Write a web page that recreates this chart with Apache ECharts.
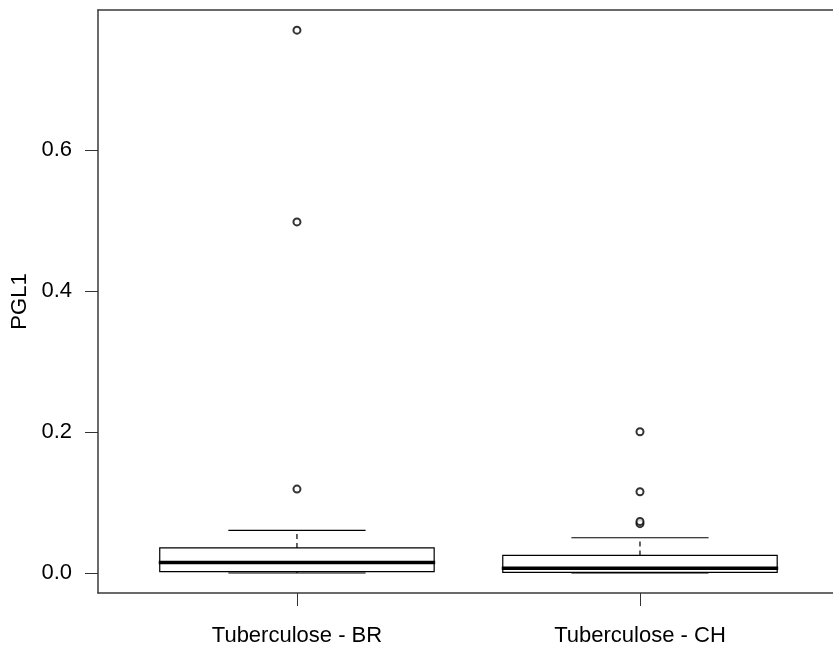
<!DOCTYPE html>
<html>
<head>
<meta charset="utf-8">
<script src="https://cdn.jsdelivr.net/npm/echarts@6/dist/echarts.min.js"></script>
<style>
    html, body { margin: 0; padding: 0; background: #fff; }
    #chart { width: 833px; height: 648px; }
</style>
</head>
<body>
<div id="chart"></div>
<script>
// 分组
const groups = ['Tuberculose - BR', 'Tuberculose - CH'];
// 箱线统计: [下须, Q1, 中位数, Q3, 上须]
const statsBR = [0.0, 0.002, 0.015, 0.0355, 0.0605];
const statsCH = [0.0, 0.001, 0.0066, 0.025, 0.050];
// 异常值
const outliersBR = [0.119, 0.498, 0.770];
const outliersCH = [0.070, 0.073, 0.1153, 0.2004];
// y轴刻度
const yTicks = [0, 0.2, 0.4, 0.6];

const FONT = '"Liberation Sans", Arial, sans-serif';
const AXIS_LINE = { color: '#3a3a3a', width: 1.5 };

const boxData = [
    [1].concat(statsBR),
    [2].concat(statsCH)
];
const outlierData = outliersBR.map(v => [1, v]).concat(outliersCH.map(v => [2, v]));

function renderBox(params, api) {
    const x = api.value(0);
    const lo = api.coord([x, api.value(1)]);
    const q1 = api.coord([x, api.value(2)]);
    const med = api.coord([x, api.value(3)]);
    const q3 = api.coord([x, api.value(4)]);
    const hi = api.coord([x, api.value(5)]);
    const boxW = api.size([0.8, 0])[0];
    const capW = boxW / 2;
    const cx = lo[0];
    const line = (x1, y1, x2, y2, style) => ({
        type: 'line',
        shape: { x1: x1, y1: y1, x2: x2, y2: y2 },
        style: Object.assign({ stroke: '#000', lineWidth: 1.2 }, style || {})
    });
    return {
        type: 'group',
        children: [
            line(cx, q3[1], cx, hi[1], { lineDash: [5, 4] }),
            line(cx, q1[1], cx, lo[1], { lineDash: [5, 4] }),
            line(cx - capW / 2, hi[1], cx + capW / 2, hi[1]),
            line(cx - capW / 2, lo[1], cx + capW / 2, lo[1]),
            {
                type: 'rect',
                shape: { x: cx - boxW / 2, y: q3[1], width: boxW, height: q1[1] - q3[1] },
                style: { fill: '#fff', stroke: '#000', lineWidth: 1.2 }
            },
            line(cx - boxW / 2 - 1, med[1], cx + boxW / 2 + 1, med[1], { lineWidth: 3.5 })
        ]
    };
}

const chart = echarts.init(document.getElementById('chart'));
chart.setOption({
    animation: false,
    backgroundColor: '#fff',
    grid: { left: 98, top: 10, width: 735, height: 583 },
    xAxis: [
        {
            type: 'value',
            min: 0.42,
            max: 2.5627,
            splitLine: { show: false },
            axisLine: { onZero: false, lineStyle: AXIS_LINE },
            axisTick: { show: true, length: 13, customValues: [1, 2], lineStyle: { color: '#333' } },
            axisLabel: {
                customValues: [1, 2],
                formatter: v => groups[Math.round(v) - 1] || '',
                margin: 32,
                fontSize: 22,
                fontFamily: FONT,
                color: '#000'
            }
        },
        {
            // 顶部边框
            type: 'value',
            position: 'top',
            min: 0.42,
            max: 2.5627,
            splitLine: { show: false },
            axisLine: { show: true, onZero: false, lineStyle: AXIS_LINE },
            axisTick: { show: false },
            axisLabel: { show: false }
        }
    ],
    yAxis: {
        type: 'value',
        min: -0.02837,
        max: 0.7986,
        name: 'PGL1',
        nameLocation: 'middle',
        nameGap: 62,
        nameRotate: 90,
        nameTextStyle: { fontSize: 22, fontFamily: FONT, color: '#000' },
        splitLine: { show: false },
        axisLine: { show: true, onZero: false, lineStyle: AXIS_LINE },
        axisTick: { show: true, length: 13, customValues: yTicks, lineStyle: { color: '#333' } },
        axisLabel: {
            customValues: yTicks,
            formatter: v => v.toFixed(1),
            margin: 26,
            fontSize: 22,
            fontFamily: FONT,
            color: '#000'
        }
    },
    series: [
        {
            type: 'custom',
            renderItem: renderBox,
            data: boxData,
            encode: { x: 0, y: [1, 2, 3, 4, 5] },
            clip: false
        },
        {
            type: 'scatter',
            data: outlierData,
            symbol: 'emptyCircle',
            symbolSize: 7,
            itemStyle: { color: '#000', borderColor: '#000', borderWidth: 0.8 },
            z: 5
        }
    ]
});
</script>
</body>
</html>
